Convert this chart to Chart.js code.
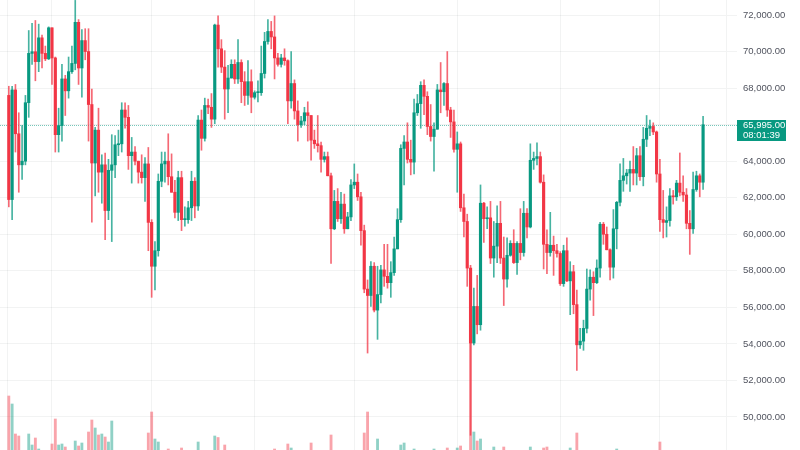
<!DOCTYPE html>
<html>
<head>
<meta charset="utf-8">
<script src="https://cdn.jsdelivr.net/npm/chart.js@4.4.1/dist/chart.umd.min.js"></script>
<style>
  html, body { margin: 0; padding: 0; background: #ffffff; overflow: hidden; }
</style>
</head>
<body>
<canvas id="chart" width="800" height="450"></canvas>
<script>
// --- 1. DATA (daily candles, Mar 19 -> Oct 14) ---
const monthSpans = [['Mar', 19, 31], ['Apr', 1, 30], ['May', 1, 31], ['Jun', 1, 30],
                    ['Jul', 1, 31], ['Aug', 1, 31], ['Sep', 1, 30], ['Oct', 1, 14]];
const dates = [];
monthSpans.forEach(([m, from, to]) => {
    for (let d = from; d <= to; d++) dates.push(`${m} ${d}`);
});

const openP = [
    67600, 61900, 67900, 65500, 63800, 64000, 67200, 69900, 69990, 69450, 70750, 69900, 69600,
    71300, 69650, 65450, 65950, 68500, 67850, 68900, 69350, 71600, 69100, 70600, 70000, 67100, 63900, 65700,
    63400, 63800, 61300, 63500, 63800, 64900, 64950, 66800, 66400, 64300, 64500, 64000, 63400, 63100, 63850,
    60650, 58250, 59100, 62900, 63850, 64000, 63150, 62300, 61200, 63100, 60800, 60800, 61450, 62900, 61550,
    66250, 65250, 67050, 66950, 66300, 71450, 70150, 69150, 67950, 68550, 69300, 68500, 69400, 68350, 67600, 68350,
    67500, 67750, 67750, 68800, 70550, 71100, 70800, 69650, 69300, 69650, 69500, 67300, 68250, 66750, 66000,
    66200, 66650, 66500, 65150, 64950, 64850, 64100, 64250, 63200, 60300, 61800, 60850, 61650, 60300, 60950,
    62700, 62850, 62050, 60200, 57000, 56650, 58250, 55850, 56700, 58050, 57700, 57350, 57900, 59200, 60800,
    64700, 65050, 64100, 63950, 66650, 67150, 68150, 67550, 65900, 65350, 65750, 67900, 67800, 68250, 66800, 66150,
    64650, 64950, 61450, 60700, 58150, 54050, 56050, 55050, 61700, 60850, 60900, 58700, 59350, 60600, 58700,
    57550, 58850, 59500, 58450, 59500, 59000, 61150, 60400, 64050, 64150, 64250, 62850, 59450, 59000, 59400, 59100,
    58950, 57300, 59100, 57450, 57950, 56150, 53950, 54150, 54850, 57000, 57650, 57350, 58150, 60550, 60000,
    59150, 58200, 60300, 61750, 62950, 63200, 63350, 63550, 63350, 64300, 63150, 65200, 65800, 65900, 65600,
    63300, 60800, 60650, 60750, 62100, 62050, 62800, 62300, 62150, 60600, 60300, 62450, 63200, 62850
];
const highP = [
    68100, 68100, 68200, 66650, 65950, 67600, 71150, 71550, 71700, 71500, 70900, 70300, 71350,
    71300, 69700, 66900, 69300, 68700, 69700, 70300, 72800, 71750, 71200, 71250, 71250, 67950, 65850, 66900,
    64350, 64450, 64100, 65450, 65400, 65700, 67200, 67200, 67050, 65300, 64800, 64000, 64350, 64200, 64750,
    60800, 59600, 63300, 64500, 64500, 65500, 64400, 62950, 63450, 63450, 61500, 61800, 63450, 63100, 66500,
    66800, 67450, 67400, 67700, 71500, 71950, 70650, 70050, 69250, 69550, 69550, 70650, 69550, 68900, 69500, 69000,
    67850, 68400, 70300, 71050, 71750, 71650, 71950, 69900, 69850, 70150, 69550, 69999, 68450, 67300, 66450,
    66950, 67250, 66500, 65700, 66500, 65050, 64500, 64500, 63350, 62400, 62500, 62300, 62200, 61200, 63000,
    63850, 63300, 62300, 60500, 57500, 58500, 58450, 58250, 58300, 59450, 59450, 58500, 59850, 61400, 64900,
    65400, 66100, 65150, 67400, 67650, 68350, 68450, 67800, 67100, 66100, 68200, 69400, 68300, 70000, 66950, 66800,
    65600, 65050, 62200, 61100, 58300, 57050, 57750, 62700, 61750, 61500, 61800, 60700, 61550, 61800, 59850,
    59800, 59650, 60250, 59600, 61400, 61800, 61400, 64950, 64500, 65000, 64500, 63250, 60250, 61200, 59900, 59450,
    59050, 59400, 59800, 58500, 58300, 56950, 54850, 55300, 58100, 58050, 57950, 58600, 60650, 60650, 60400,
    59200, 61350, 61800, 63850, 64150, 63550, 64000, 64800, 64700, 64800, 65850, 66500, 66250, 66100, 65650,
    64100, 62400, 61500, 62500, 62400, 62950, 64450, 63200, 62500, 61300, 63400, 63450, 63300, 66450
];
const lowP = [
    61500, 60800, 64500, 62300, 63000, 63800, 66400, 69300, 68400, 68900, 69100, 69500, 69560,
    68200, 64500, 64500, 65100, 66500, 67450, 68800, 69000, 68200, 67500, 69550, 65100, 60660, 62100, 62300,
    61700, 59700, 60800, 59600, 63100, 64300, 64500, 65800, 63550, 62800, 63800, 62800, 62800, 61800, 59100,
    56550, 56950, 58800, 62600, 62850, 62700, 62300, 60900, 60750, 60200, 60450, 60600, 60750, 60900, 61300,
    64600, 65100, 66600, 65850, 66050, 69150, 68850, 66300, 66650, 68550, 68250, 68250, 67200, 67050, 67100, 66650,
    67400, 67250, 67600, 68550, 70400, 70150, 68500, 69200, 69150, 69250, 66050, 66900, 66300, 65100, 65850,
    66000, 65100, 64050, 64700, 64500, 63400, 63950, 63200, 58400, 60250, 60700, 60600, 60050, 60300, 60750,
    62500, 61850, 59400, 56800, 53500, 56050, 55750, 54250, 56250, 57150, 57050, 56550, 57750, 59200, 60650,
    62700, 63900, 63250, 63300, 66500, 65800, 66550, 65450, 65100, 63450, 65750, 66650, 67050, 66450, 65300, 64500,
    62300, 61250, 59850, 57150, 49000, 53950, 54550, 54750, 59550, 60300, 58400, 57650, 58450, 58400, 56100,
    57100, 58800, 58400, 57800, 58600, 58800, 59800, 60350, 63550, 63800, 62800, 58100, 57850, 58800, 57750, 58750,
    57200, 57150, 57400, 55600, 55650, 52550, 53750, 53650, 54600, 56400, 55550, 57300, 57650, 59450, 59150,
    57500, 57600, 59200, 61550, 62350, 62750, 62350, 62700, 62700, 62950, 62650, 64800, 65400, 65450, 62850,
    60150, 59800, 59850, 60450, 61650, 61850, 62100, 61800, 60300, 58900, 60050, 62350, 62050, 62450
];
const closeP = [
    61900, 67900, 65500, 63800, 64000, 67200, 69900, 69990, 69450, 70750, 69900, 69600, 71300,
    69650, 65450, 65950, 68500, 67850, 68900, 69350, 71600, 69100, 70600, 70000, 67100, 63900, 65700, 63400,
    63800, 61300, 63500, 63800, 64900, 64950, 66800, 66400, 64300, 64500, 64000, 63400, 63100, 63850, 60650,
    58250, 59100, 62900, 63850, 64000, 63150, 62300, 61200, 63100, 60800, 60800, 61450, 62900, 61550, 66250,
    65250, 67050, 66950, 66300, 71450, 70150, 69150, 67950, 68550, 69300, 68500, 69400, 68350, 67600, 68350, 67500,
    67750, 67750, 68800, 70550, 71100, 70800, 69650, 69300, 69650, 69500, 67300, 68250, 66750, 66000, 66200,
    66650, 66500, 65150, 64950, 64850, 64100, 64250, 63200, 60300, 61800, 60850, 61650, 60300, 60950, 62700,
    62850, 62050, 60200, 57000, 56650, 58250, 55850, 56700, 58050, 57700, 57350, 57900, 59200, 60800, 64700,
    65050, 64100, 63950, 66650, 67150, 68150, 67550, 65900, 65350, 65750, 67900, 67800, 68250, 66800, 66150, 64650,
    64950, 61450, 60700, 58150, 54050, 56050, 55050, 61700, 60850, 60900, 58700, 59350, 60600, 58700, 57550,
    58850, 59500, 58450, 59500, 59000, 61150, 60400, 64050, 64150, 64250, 62850, 59450, 59000, 59400, 59100, 58950,
    57300, 59100, 57450, 57950, 56150, 53950, 54150, 54850, 57000, 57650, 57350, 58150, 60550, 60000, 59150,
    58200, 60300, 61750, 62950, 63200, 63350, 63550, 63350, 64300, 63150, 65200, 65800, 65900, 65600, 63300,
    60800, 60650, 60750, 62100, 62050, 62800, 62300, 62150, 60600, 60300, 62450, 63200, 62850, 65995
];
// volume in thousands; the pane base sits below the visible crop
const volumeK = [
    128, 112, 52, 48, 18, 19, 52, 30, 44, 22, 17, 10, 14,
    32, 82, 30, 32, 26, 15, 16, 38, 28, 34, 19, 56, 80, 64, 50, 52, 46, 36, 78, 17, 15, 19, 18, 19, 18, 14, 12, 11, 19, 54,
    96, 42, 36, 15, 12, 22, 17, 19, 19, 24, 10, 9, 18, 19, 36, 19, 18, 8, 12, 48, 45, 17, 30, 18, 8, 9, 16, 19, 15, 17, 19,
    6, 9, 19, 18, 19, 15, 22, 6, 5, 10, 32, 24, 19, 18, 6, 6, 17, 34, 14, 19, 18, 5, 7, 50, 19, 16, 15, 16, 6, 12,
    14, 12, 19, 54, 96, 19, 18, 42, 19, 18, 19, 17, 9, 12, 30, 34, 19, 16, 22, 6, 12, 17, 19, 16, 22, 19, 17, 6, 24, 17, 19,
    24, 28, 19, 19, 234, 56, 38, 42, 19, 6, 17, 26, 19, 19, 26, 19, 6, 9, 17, 19, 19, 16, 26, 10, 9, 17, 24, 26, 19, 19, 6,
    12, 19, 18, 24, 19, 54, 8, 9, 19, 17, 18, 16, 19, 6, 7, 17, 19, 22, 19, 18, 5, 8, 17, 16, 15, 19, 18, 5, 6, 19,
    36, 19, 18, 16, 5, 6, 19, 15, 17, 19, 18, 6, 7, 19
];
const priceTicks = [50000, 52000, 54000, 56000, 58000, 60000, 62000, 64000, 66000, 68000, 70000, 72000];
const countdownText = '08:01:39';

// --- 2. STYLE ---
const upColor = '#089981';
const downColor = '#F23645';
const gridColor = 'rgba(42, 46, 57, 0.06)';
const labelColor = '#50535e';
const fontFamily = '"Liberation Sans", Arial, sans-serif';

const isUp = i => closeP[i] >= openP[i];
const fmtPrice = v => v.toLocaleString('en-US', { minimumFractionDigits: 2, maximumFractionDigits: 2 });

// month starts get a vertical grid line
const gridDays = [-0.5];
dates.forEach((d, i) => { if (d.endsWith(' 1')) gridDays.push(i); });

const bodyData = dates.map((d, i) => ({ x: i, y: [openP[i], closeP[i]] }));
const wickData = dates.map((d, i) => ({ x: i, y: [lowP[i], highP[i]] }));
const volData = dates.map((d, i) => ({ x: i, y: volumeK[i] }));

// --- 3. LAST PRICE LINE + LABEL ---
const lastPricePlugin = {
    id: 'lastPrice',
    beforeDatasetsDraw(chart) {
        const { ctx, chartArea, scales } = chart;
        const py = Math.round(scales.y.getPixelForValue(closeP[closeP.length - 1])) + 0.5;
        ctx.save();
        ctx.strokeStyle = 'rgba(8,153,129,0.55)';
        ctx.lineWidth = 1;
        ctx.setLineDash([1, 1]);
        ctx.beginPath();
        ctx.moveTo(chartArea.left, py);
        ctx.lineTo(chartArea.right + 11, py);
        ctx.stroke();
        ctx.restore();
    },
    afterDraw(chart) {
        const { ctx, chartArea, scales } = chart;
        const py = Math.round(scales.y.getPixelForValue(closeP[closeP.length - 1]));
        const bx = chartArea.right + 11;
        ctx.save();
        ctx.fillStyle = upColor;
        ctx.fillRect(bx, py - 5, 49, 21);
        ctx.fillStyle = '#ffffff';
        ctx.font = `9.5px ${fontFamily}`;
        ctx.textBaseline = 'middle';
        ctx.fillText(fmtPrice(closeP[closeP.length - 1]), bx + 6, py + 0.5);
        ctx.fillText(countdownText, bx + 6, py + 10.5);
        ctx.restore();
    }
};

// --- 4. CHART ---
new Chart(document.getElementById('chart'), {
    type: 'bar',
    data: {
        datasets: [
            {
                label: 'body',
                data: bodyData,
                yAxisID: 'y',
                grouped: false,
                barThickness: 2.5,
                minBarLength: 1,
                borderWidth: 0,
                backgroundColor: dates.map((d, i) => isUp(i) ? upColor : downColor)
            },
            {
                label: 'wick',
                data: wickData,
                yAxisID: 'y',
                grouped: false,
                barThickness: 1,
                borderWidth: 0,
                backgroundColor: dates.map((d, i) => isUp(i) ? 'rgba(8,153,129,0.75)' : 'rgba(242,54,69,0.75)')
            },
            {
                label: 'volume',
                data: volData,
                yAxisID: 'vol',
                grouped: false,
                barThickness: 2.2,
                borderWidth: 0,
                backgroundColor: dates.map((d, i) => isUp(i) ? 'rgba(8,153,129,0.45)' : 'rgba(242,54,69,0.45)')
            }
        ]
    },
    options: {
        responsive: false,
        animation: false,
        devicePixelRatio: 1,
        layout: { padding: 0 },
        plugins: { legend: { display: false }, tooltip: { enabled: false } },
        scales: {
            x: {
                type: 'linear',
                min: -2.65,
                max: 215.9,
                offset: false,
                grid: { color: gridColor, drawTicks: false, offset: false },
                border: { display: false },
                ticks: { display: false },
                afterBuildTicks: s => { s.ticks = gridDays.map(v => ({ value: v })); },
                afterFit: s => { s.height = 0; s.paddingLeft = 0; s.paddingRight = 0; }
            },
            y: {
                position: 'right',
                min: 48194,
                max: 72821,
                grid: { color: gridColor, tickColor: gridColor, tickLength: 11 },
                border: { color: gridColor },
                ticks: {
                    color: labelColor,
                    font: { family: fontFamily, size: 9.5 },
                    padding: 6,
                    callback: v => fmtPrice(v)
                },
                afterBuildTicks: s => { s.ticks = priceTicks.map(v => ({ value: v })); },
                afterFit: s => { s.width = 74; s.paddingTop = 0; s.paddingBottom = 0; }
            },
            vol: {
                axis: 'y',
                type: 'linear',
                display: false,
                min: 20,
                max: 920
            }
        }
    },
    plugins: [lastPricePlugin]
});
</script>
</body>
</html>
